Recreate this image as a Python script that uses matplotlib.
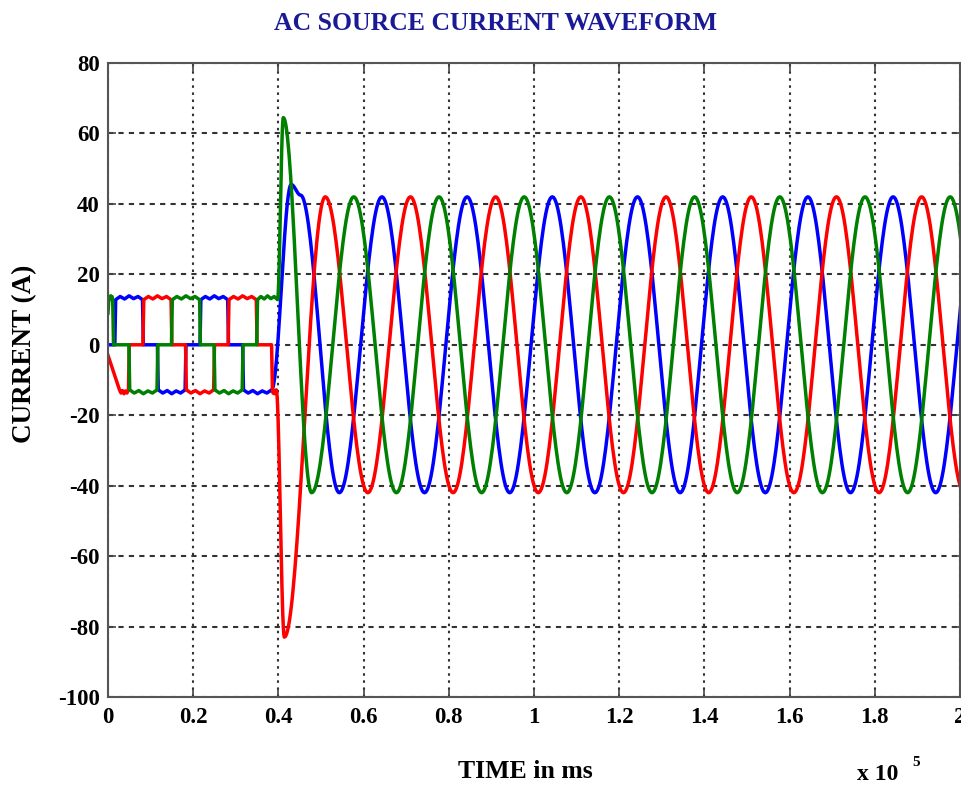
import numpy as np
import matplotlib.pyplot as plt

plt.rcParams['font.family'] = ['Liberation Serif', 'DejaVu Serif']
plt.rcParams['font.weight'] = 'bold'
plt.rcParams['axes.unicode_minus'] = False

# time is in units of 1e5 (multiplier printed under the axis)
x_ticks = [0, 0.2, 0.4, 0.6, 0.8, 1.0, 1.2, 1.4, 1.6, 1.8, 2.0]
y_ticks = [-100, -80, -60, -40, -20, 0, 20, 40, 60, 80]

# flat-top ripple on the conduction blocks (A, away from zero)
ripple = [0.0, 0.9, 0.2, 1.1, 0.3, 0.9, 0.0]

# before the filter is switched in: 120 deg conduction blocks (start, end, level)
red_head = (0.0, -3.0)
red_blocks = [(0.025, 0.050, -12.8), (0.082, 0.150, 12.8), (0.182, 0.250, -12.8),
              (0.282, 0.350, 12.8), (0.384, 0.397, -12.8)]
green_head = (0.0, 9.0)
green_blocks = [(0.0, 0.013, 12.8), (0.049, 0.117, -12.8), (0.149, 0.217, 12.8),
                (0.249, 0.317, -12.8), (0.349, 0.400, 12.8)]
blue_head = (0.0, 0.0)
blue_blocks = [(0.016, 0.083, 12.8), (0.116, 0.183, -12.8), (0.216, 0.283, 12.8),
               (0.316, 0.386, -12.8)]

# after switching: successive peaks / troughs of each phase (time, A)
red_ext_t = [0.414, 0.51, 0.61, 0.71, 0.81, 0.91, 1.01, 1.11, 1.21, 1.31, 1.41,
             1.51, 1.61, 1.71, 1.81, 1.91, 2.01]
red_ext_v = [-83, 42, -42, 42, -42, 42, -42, 42, -42, 42, -42,
             42, -42, 42, -42, 42, -42]
green_ext_t = [0.4115, 0.478, 0.577, 0.677, 0.777, 0.877, 0.977, 1.077, 1.177,
               1.277, 1.377, 1.477, 1.577, 1.677, 1.777, 1.877, 1.977, 2.077]
green_ext_v = [64.5, -42, 42, -42, 42, -42, 42, -42, 42,
               -42, 42, -42, 42, -42, 42, -42, 42, -42]
blue_ext_t = [0.430, 0.452, 0.543, 0.643, 0.743, 0.843, 0.943, 1.043, 1.143,
              1.243, 1.343, 1.443, 1.543, 1.643, 1.743, 1.843, 1.943, 2.043]
blue_ext_v = [45.5, 42.5, -42, 42, -42, 42, -42, 42, -42,
              42, -42, 42, -42, 42, -42, 42, -42, 42]

EDGE = 0.002


def quasi_square(head, blocks):
    ts, ys = [head[0]], [head[1]]
    for t0, t1, lvl in blocks:
        if ys[-1] == 0.0:
            ts.append(t0)
            ys.append(0.0)
        n = len(ripple)
        for k, r in enumerate(ripple):
            ts.append(t0 + EDGE + (t1 - t0 - 2 * EDGE) * k / (n - 1))
            ys.append(lvl + np.sign(lvl) * r)
        ts.append(t1)
        ys.append(0.0)
    # last block runs straight into the transient
    return ts[:-1], ys[:-1]


def sine_tail(ts, ys, ext_t, ext_v):
    ts, ys = list(ts), list(ys)
    for te, ve in zip(ext_t, ext_v):
        t0, v0 = ts[-1], ys[-1]
        s = np.linspace(0, 1, 40)[1:]
        ts.extend(t0 + (te - t0) * s)
        ys.extend(v0 + (ve - v0) * (1 - np.cos(np.pi * s)) / 2)
    return np.array(ts), np.array(ys)


phases = [
    ('blue', blue_head, blue_blocks, blue_ext_t, blue_ext_v),
    ('red', red_head, red_blocks, red_ext_t, red_ext_v),
    ('#008000', green_head, green_blocks, green_ext_t, green_ext_v),
]

fig = plt.figure(figsize=(9.62, 7.87), dpi=100)
ax = fig.add_axes([108 / 962, 1 - 697 / 787, (960 - 108) / 962, (697 - 63) / 787])

for color, head, blocks, et, ev in phases:
    t, y = quasi_square(head, blocks)
    t, y = sine_tail(t, y, et, ev)
    ax.plot(t, y, color=color, lw=2.5, solid_joinstyle='round')

ax.set_xlim(0, 2)
ax.set_ylim(-100, 80)
ax.set_xticks(x_ticks)
ax.set_xticklabels([f'{v:g}' for v in x_ticks])
ax.set_yticks(y_ticks)
ax.set_yticklabels([f'{v:g}' for v in y_ticks])
ax.tick_params(direction='in', length=6, width=1.2, labelsize=16.5,
               top=True, right=True, color='#444444')
ax.tick_params(axis='x', pad=7)
ax.tick_params(axis='y', pad=6)
for lbl in ax.get_xticklabels() + ax.get_yticklabels():
    lbl.set_fontweight('bold')
for sp in ax.spines.values():
    sp.set_color('#555555')
    sp.set_linewidth(1.5)

ax.xaxis.grid(True, color='#333333', linestyle=(0, (1.2, 2.2)), linewidth=1.5)
ax.yaxis.grid(True, color='#333333', linestyle=(0, (2.5, 2.5)), linewidth=1.5)

fig.text(496 / 962, 1 - 24 / 787, 'AC SOURCE CURRENT WAVEFORM', ha='center', va='center',
         fontsize=18.5, fontweight='bold', color='#1a1a96')
fig.text(25 / 962, 1 - 354 / 787, 'CURRENT (A)', rotation=90, ha='center', va='center',
         fontsize=19.5, fontweight='bold')
fig.text(525 / 962, 1 - 771 / 787, 'TIME in ms', ha='center', va='center',
         fontsize=18.5, fontweight='bold')
fig.text(857 / 962, 1 - 775 / 787, 'x 10', ha='left', va='center',
         fontsize=17, fontweight='bold')
fig.text(912 / 962, 1 - 763 / 787, '5', ha='left', va='center',
         fontsize=11, fontweight='bold')

fig.savefig('out.png', dpi=100, facecolor='white')
